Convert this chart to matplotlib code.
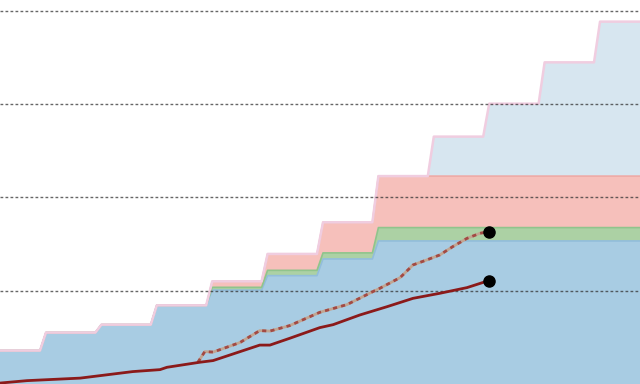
import numpy as np
import matplotlib
matplotlib.use("Agg")
import matplotlib.pyplot as plt

# ---- data ----
# yearly step levels (thickness of each stacked layer, per period)
blue_layer = [0.358, 0.551, 0.636, 0.843, 1.006, 1.161, 1.340, 1.533, 1.533, 1.533, 1.533, 1.533]
green_layer = [0, 0, 0, 0, 0.030, 0.057, 0.065, 0.143, 0.143, 0.143, 0.143, 0.143]
red_layer = [0, 0, 0, 0, 0.064, 0.176, 0.328, 0.552, 0.552, 0.552, 0.552, 0.552]
light_layer = [0, 0, 0, 0, 0, 0, 0, 0, 0.423, 0.776, 1.219, 1.655]
step_months = [9, 21, 33, 45, 57, 69, 81, 93, 105, 117, 129]   # month at which each step begins
ramp_len = 1.3

solid_months = [0.34, 6.2, 17.7, 29.1, 35.0, 36.5, 43.6, 46.5, 56.6, 58.8, 63.1, 69.6,
                72.5, 78.3, 84.2, 89.8, 95.6, 101.5, 106.2]
solid_vals = [0.01, 0.036, 0.063, 0.133, 0.154, 0.179, 0.233, 0.251, 0.417, 0.417, 0.490,
              0.604, 0.636, 0.740, 0.829, 0.918, 0.972, 1.033, 1.108]

dotted_months = [43.2, 44.7, 46.5, 52.3, 56.6, 58.8, 63.1, 69.6, 75.5, 81.1, 82.6, 87.0,
                 89.8, 92.8, 95.6, 98.4, 101.5, 104.3, 106.2]
dotted_vals = [0.233, 0.347, 0.342, 0.444, 0.572, 0.567, 0.626, 0.768, 0.851, 0.990, 1.025,
               1.140, 1.276, 1.330, 1.383, 1.472, 1.561, 1.615, 1.633]

grid_levels = [1, 2, 3, 4]
x_min, x_max = 0.34, 138.96
y_min, y_max = 0.0, 4.115

# ---- build step geometry from data ----
def step_xy(levels):
    xs = [x_min]
    ys = [levels[0]]
    for k, m in enumerate(step_months):
        xs += [m, m + ramp_len]
        ys += [levels[k], levels[k + 1]]
    xs.append(x_max)
    ys.append(levels[-1])
    return np.array(xs), np.array(ys)

x, b = step_xy(blue_layer)
_, g = step_xy(green_layer)
_, r = step_xy(red_layer)
_, l = step_xy(light_layer)

t1 = b
t2 = t1 + g
t3 = t2 + r
t4 = t3 + l

fig = plt.figure(figsize=(6.4, 3.84), dpi=100)
ax = fig.add_axes([0, 0, 1, 1])
ax.set_xlim(x_min, x_max)
ax.set_ylim(y_min, y_max)
ax.axis("off")

ax.fill_between(x, t3, t4, color="#d7e6f0", lw=0, zorder=1)
ax.fill_between(x, t2, t3, color="#f6c0bb", lw=0, zorder=1)
ax.fill_between(x, t1, t2, color="#acd1a4", lw=0, zorder=1)
ax.fill_between(x, 0, t1, color="#a8cce3", lw=0, zorder=1)

ax.plot(x, t1, color="#92bddb", lw=1.2, zorder=2)
ax.plot(x, t2, color="#90c48c", lw=1.2, zorder=2)
ax.plot(x, t3, color="#eeaaa6", lw=1.2, zorder=2)
ax.plot(x, t4, color="#f0cde0", lw=1.8, zorder=2)

for gl in grid_levels:
    ax.axhline(gl, color="#333333", lw=1.0, ls=(0, (2, 1.6)), alpha=0.75, zorder=3)

ax.plot(dotted_months, dotted_vals, color="#c2a592", lw=2.0, zorder=4, solid_capstyle="butt")
ax.plot(dotted_months, dotted_vals, color="#a24a44", lw=2.0, ls=(0, (1.5, 1.5)), zorder=5)
ax.plot(solid_months, solid_vals, color="#8b1a1a", lw=2.0, zorder=5)

ax.plot([dotted_months[-1]], [dotted_vals[-1]], "o", color="black", ms=8, zorder=6)
ax.plot([solid_months[-1]], [solid_vals[-1]], "o", color="black", ms=8, zorder=6)

fig.savefig("out.png", dpi=100)
